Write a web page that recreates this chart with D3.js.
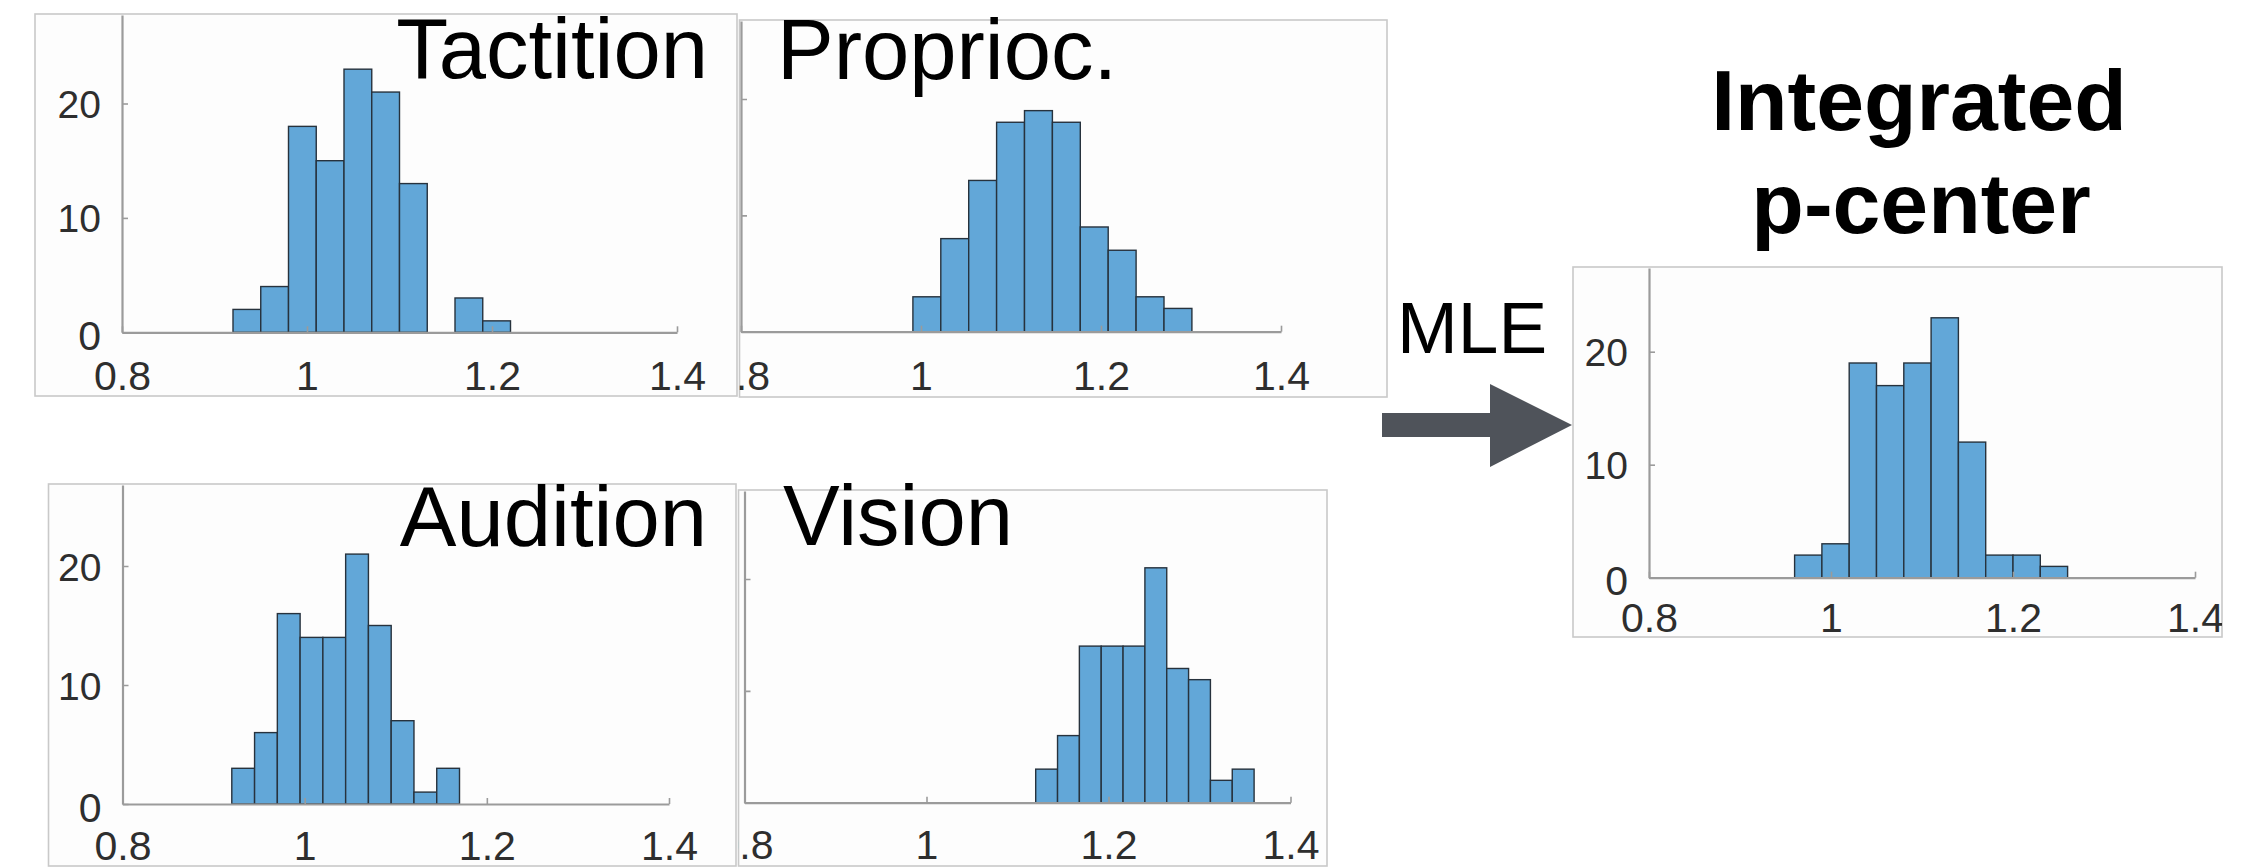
<!DOCTYPE html>
<html>
<head>
<meta charset="utf-8">
<script src="https://cdn.jsdelivr.net/npm/d3@7"></script>
<style>
  html, body { margin: 0; padding: 0; background: #ffffff; }
  svg { display: block; }
  text { font-family: "Liberation Sans", Arial, Helvetica, sans-serif; }
</style>
</head>
<body>
<svg id="chart" width="2260" height="868"></svg>
<script>
// ---------------- data ----------------
const panelTitles = ["Tactition", "Proprioc.", "Audition", "Vision"];
const integratedTitle = ["Integrated", "p-center"];
const arrowLabel = "MLE";

const xTicks = [0.8, 1.0, 1.2, 1.4];
const xTickLabels = ["0.8", "1", "1.2", "1.4"];
const yTicks = [0, 10, 20];
const yTickLabels = ["0", "10", "20"];

const tactitionEdges  = [0.92, 0.95, 0.98, 1.01, 1.04, 1.07, 1.10, 1.13, 1.16, 1.19, 1.22];
const tactitionCounts = [2, 4, 18, 15, 23, 21, 13, 0, 3, 1];

const propriocEdges  = [0.991, 1.022, 1.053, 1.084, 1.115, 1.146, 1.177, 1.208, 1.239, 1.270, 1.301];
const propriocCounts = [3, 8, 13, 18, 19, 18, 9, 7, 3, 2];

const auditionEdges  = [0.92, 0.945, 0.97, 0.995, 1.02, 1.045, 1.07, 1.095, 1.12, 1.145, 1.17];
const auditionCounts = [3, 6, 16, 14, 14, 21, 15, 7, 1, 3];

const visionEdges  = [1.12, 1.144, 1.168, 1.192, 1.216, 1.24, 1.264, 1.288, 1.312, 1.336, 1.36];
const visionCounts = [3, 6, 14, 14, 14, 21, 12, 11, 2, 3];

const integratedEdges  = [0.96, 0.99, 1.02, 1.05, 1.08, 1.11, 1.14, 1.17, 1.20, 1.23, 1.26];
const integratedCounts = [2, 3, 19, 17, 19, 23, 12, 2, 2, 1];

// ---------------- layout (pixels) ----------------
const layout = [
  { id: "tact", edges: tactitionEdges, counts: tactitionCounts,
    frame: [35, 14, 737, 396], x0: 122, x1: 677, y0: 332.3, y20: 103.5,
    labelDy: 58, showY: true,
    title: panelTitles[0], tx: 708, ty: 78, anchor: "end" },
  { id: "prop", edges: propriocEdges, counts: propriocCounts,
    frame: [739.5, 20, 1387, 397], x0: 741, x1: 1281, y0: 331.7, y20: 99,
    labelDy: 58, showY: false,
    title: panelTitles[1], tx: 777, ty: 79, anchor: "start" },
  { id: "aud", edges: auditionEdges, counts: auditionCounts,
    frame: [48.5, 484, 736, 866], x0: 122.5, x1: 669, y0: 804, y20: 566,
    labelDy: 55.5, showY: true,
    title: panelTitles[2], tx: 707, ty: 546, anchor: "end" },
  { id: "vis", edges: visionEdges, counts: visionCounts,
    frame: [738.5, 490, 1327, 866], x0: 744.5, x1: 1290.5, y0: 802.7, y20: 579,
    labelDy: 56.5, showY: false,
    title: panelTitles[3], tx: 783, ty: 545, anchor: "start" },
  { id: "integ", edges: integratedEdges, counts: integratedCounts,
    frame: [1573, 267, 2222, 637], x0: 1649, x1: 2195, y0: 577.7, y20: 351.7,
    labelDy: 54, showY: true,
    title: null }
];

const barFill = "#62a7d8";
const barStroke = "#27323d";
const axisColor = "#9b9b9b";
const tickTextColor = "#2e2e2e";
const frameColor = "#c9c9c9";

const svg = d3.select("#chart");
const defs = svg.append("defs");

layout.forEach(p => {
  const [fx0, fy0, fx1, fy1] = p.frame;

  defs.append("clipPath").attr("id", "clip-" + p.id)
    .append("rect").attr("x", fx0).attr("y", fy0)
    .attr("width", fx1 - fx0).attr("height", fy1 - fy0);

  svg.append("rect")
    .attr("x", fx0).attr("y", fy0)
    .attr("width", fx1 - fx0).attr("height", fy1 - fy0)
    .attr("fill", "#fdfdfd")
    .attr("stroke", frameColor).attr("stroke-width", 1.6);

  const g = svg.append("g").attr("clip-path", "url(#clip-" + p.id + ")");

  const x = d3.scaleLinear().domain([0.8, 1.4]).range([p.x0, p.x1]);
  const y = d3.scaleLinear().domain([0, 20]).range([p.y0, p.y20]);
  const yAxisScale = d3.scaleLinear()
    .domain([0, y.invert(fy0 + 1)]).range([p.y0, fy0 + 1]);

  // bars
  const bins = p.counts.map((c, i) => ({ a: p.edges[i], b: p.edges[i + 1], c: c }));
  g.selectAll("rect.bar").data(bins.filter(d => d.c > 0)).enter()
    .append("rect").attr("class", "bar")
    .attr("x", d => x(d.a))
    .attr("width", d => x(d.b) - x(d.a))
    .attr("y", d => y(d.c))
    .attr("height", d => y(0) - y(d.c))
    .attr("fill", barFill)
    .attr("stroke", barStroke).attr("stroke-width", 1.4);

  // x axis
  const xAxis = d3.axisBottom(x).tickValues(xTicks)
    .tickFormat((d, i) => xTickLabels[i])
    .tickSizeInner(-6).tickSizeOuter(0);
  const gx = g.append("g").attr("transform", `translate(0,${p.y0})`).call(xAxis);
  gx.attr("font-family", null).attr("font-size", null);
  gx.select(".domain").attr("stroke", axisColor).attr("stroke-width", 2.2);
  gx.selectAll(".tick line").attr("stroke", axisColor).attr("stroke-width", 1.6);
  gx.selectAll(".tick text")
    .attr("y", p.labelDy).attr("dy", 0)
    .attr("fill", tickTextColor)
    .style("font-size", "41px");

  // y axis (labels of the two middle panels fall outside their frame in the source, so they are not shown)
  const yAxis = d3.axisLeft(yAxisScale).tickValues(yTicks)
    .tickFormat((d, i) => p.showY ? yTickLabels[i] : "")
    .tickSizeInner(-6).tickSizeOuter(0).tickPadding(21);
  const gy = g.append("g").attr("transform", `translate(${p.x0},0)`).call(yAxis);
  gy.attr("font-family", null).attr("font-size", null);
  gy.select(".domain").attr("stroke", axisColor).attr("stroke-width", 2.2);
  gy.selectAll(".tick line").attr("stroke", axisColor).attr("stroke-width", 1.6);
  if (p.showY) {
    gy.selectAll(".tick text")
      .attr("dy", "0.36em")
      .attr("fill", tickTextColor)
      .style("font-size", "39px");
    gy.selectAll(".tick text").filter(d => d === 0).attr("dy", "0.42em").style("font-size", "41px");
  } else {
    gy.selectAll(".tick text").remove();
  }

  if (p.title) {
    svg.append("text")
      .attr("x", p.tx).attr("y", p.ty)
      .attr("text-anchor", p.anchor)
      .attr("fill", "#000")
      .style("font-size", "85px")
      .text(p.title);
  }
});

// Integrated title
svg.append("text")
  .attr("x", 1919).attr("y", 130)
  .attr("text-anchor", "middle")
  .style("font-size", "86px").style("font-weight", "bold")
  .text(integratedTitle[0]);
svg.append("text")
  .attr("x", 1921).attr("y", 233)
  .attr("text-anchor", "middle")
  .style("font-size", "86px").style("font-weight", "bold")
  .text(integratedTitle[1]);

// MLE label + arrow
svg.append("text")
  .attr("x", 1397).attr("y", 353)
  .style("font-size", "73px")
  .attr("fill", "#000")
  .text(arrowLabel);

const arrowPts = [[1382, 413], [1490, 413], [1490, 384], [1572, 425],
                  [1490, 467], [1490, 437], [1382, 437]];
svg.append("path")
  .attr("d", d3.line()(arrowPts) + "Z")
  .attr("fill", "#4f535a");
</script>
</body>
</html>
